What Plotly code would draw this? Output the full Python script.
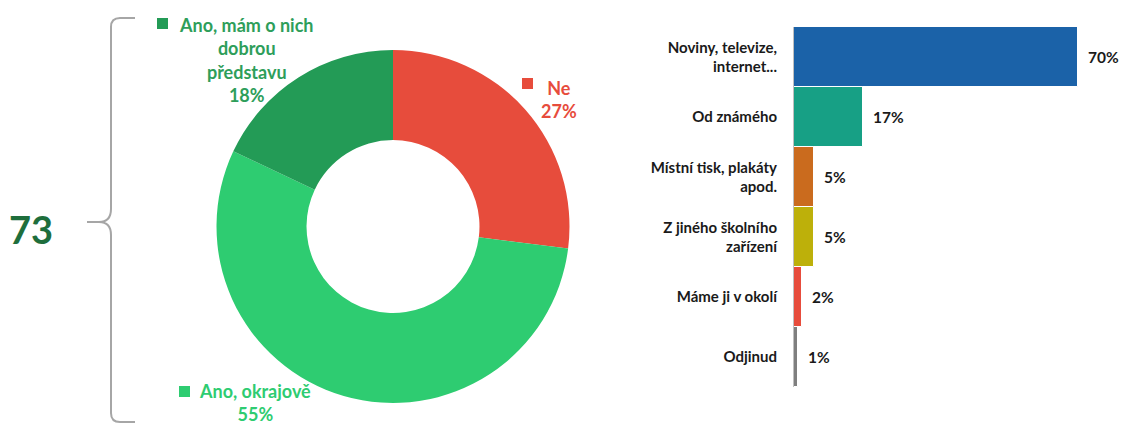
import plotly.graph_objects as go

# donut: awareness
pie_labels = ["Ne", "Ano, okrajově", "Ano, mám o nich dobrou představu"]
pie_values = [27, 55, 18]
pie_colors = ["#E74C3C", "#2ECC71", "#239B56"]
pie_text = ["Ne<br>27%", "Ano, okrajově<br>55%",
            "Ano, mám o nich<br>dobrou<br>představu<br>18%"]
total_yes = "73"

# bars: source of information
bar_labels = ["Noviny, televize,<br>internet...", "Od známého",
              "Místní tisk, plakáty<br>apod.", "Z jiného školního<br>zařízení",
              "Máme ji v okolí", "Odjinud"]
bar_values = [70, 17, 5, 5, 2, 1]
bar_colors = ["#1B62A8", "#17A085", "#CA6B1E", "#BDB00A", "#E74C3C", "#7F7F7F"]

W, H = 1128, 424
OFF = 8  # page body margin shifts the figure
FONT = "Lato"


def px(x, y):
    # screen pixel -> paper coords
    return (x - OFF) / W, 1 - (y - OFF) / H


fig = go.Figure()

x0, y1 = px(216, 50)
x1, y0 = px(570, 403)
fig.add_pie(
    labels=pie_labels, values=pie_values, sort=False, direction="clockwise",
    rotation=0, hole=0.49, textinfo="none", hoverinfo="label+percent",
    marker=dict(colors=pie_colors),
    domain=dict(x=[x0, x1], y=[y0, y1]),
    showlegend=False,
)

fig.add_bar(
    x=bar_values, y=bar_labels, orientation="h",
    marker=dict(color=bar_colors, line=dict(color="white", width=1)),
    text=[f"\u00a0\u00a0{v}%" for v in bar_values], textposition="outside",
    textfont=dict(family=FONT, size=15.5, color="#1a1a1a", weight="bold"),
    cliponaxis=False, showlegend=False, xaxis="x", yaxis="y",
)

bx0, by1 = px(794, 27)
bx1, by0 = px(1078, 387)
fig.update_layout(
    width=W, height=H,
    margin=dict(l=0, r=0, t=0, b=0),
    paper_bgcolor="white", plot_bgcolor="white",
    bargap=0.0,
    font=dict(family=FONT),
    xaxis=dict(domain=[bx0, 1.0], range=[0, 70 * (1.0 - bx0) / (bx1 - bx0)],
               visible=False),
    yaxis=dict(domain=[by0, by1], autorange="reversed",
               showline=True, linecolor="#BFBFBF", linewidth=1,
               showgrid=False, ticks="", ticklabelstandoff=13,
               tickfont=dict(family=FONT, size=15, color="#1a1a1a", weight="bold")),
)

# pie labels (text block centre) and legend squares
label_pos = [(559, 99), (255, 402), (246, 60)]
label_colors = ["#E74C3C", "#2ECC71", "#2E9E5A"]
squares = [(522, 78), (179, 386), (157, 18)]
for txt, (lx, ly), col, (sx, sy), sc in zip(pie_text, label_pos, label_colors,
                                            squares, pie_colors):
    ax, ay = px(lx, ly)
    fig.add_annotation(x=ax, y=ay, xref="paper", yref="paper", text=txt,
                       showarrow=False, align="center", xanchor="center",
                       yanchor="middle",
                       font=dict(family=FONT, size=18, color=col, weight="bold"))
    qx0, qy1 = px(sx, sy)
    qx1, qy0 = px(sx + 11, sy + 11)
    fig.add_shape(type="rect", x0=qx0, x1=qx1, y0=qy0, y1=qy1,
                  xref="paper", yref="paper", fillcolor=sc, line_width=0)

# big number
nx, ny = px(31, 229)
fig.add_annotation(x=nx, y=ny, xref="paper", yref="paper", text=total_yes,
                   showarrow=False, xanchor="center", yanchor="middle",
                   font=dict(family=FONT, size=38, color="#1E6E3C", weight="bold"))

# curly brace
pts = [
    ("M", [(135, 18)]),
    ("L", [(120, 18)]),
    ("Q", [(111, 18), (111, 27)]),
    ("L", [(111, 209)]),
    ("Q", [(111, 222), (99, 222)]),
    ("L", [(87, 222)]),
    ("M", [(99, 222)]),
    ("Q", [(111, 222), (111, 235)]),
    ("L", [(111, 413)]),
    ("Q", [(111, 422), (120, 422)]),
    ("L", [(135, 422)]),
]
path = ""
for cmd, cs in pts:
    path += cmd + " " + " ".join(f"{px(a, b)[0]:.5f},{px(a, b)[1]:.5f}" for a, b in cs) + " "
fig.add_shape(type="path", path=path.strip(), xref="paper", yref="paper",
              line=dict(color="#A6A6A6", width=2))

fig.write_html("out.html")
